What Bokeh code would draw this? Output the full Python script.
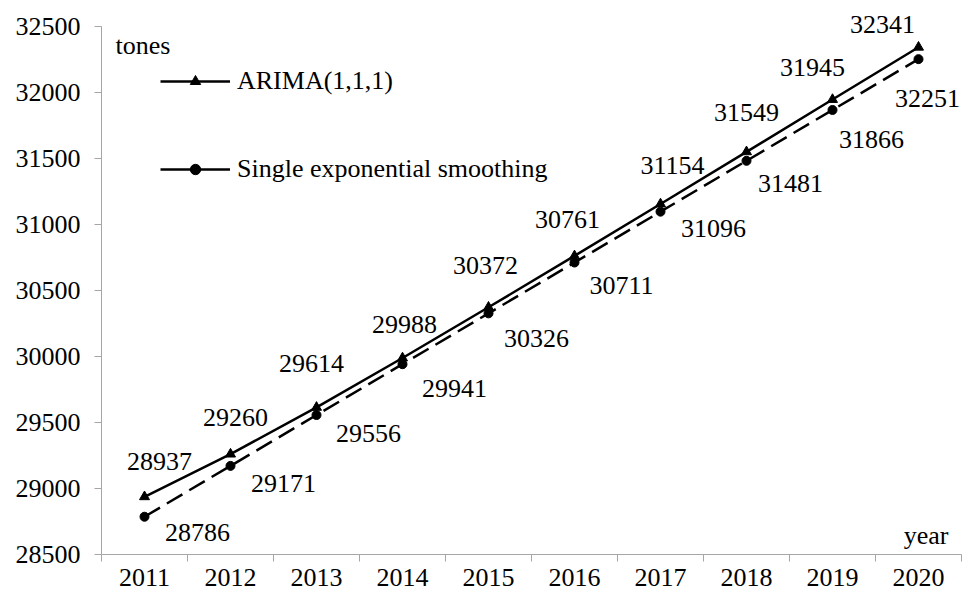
from bokeh.plotting import figure
from bokeh.models import (Range1d, FixedTicker, Legend, LegendItem, Label,
                          LabelSet, ColumnDataSource)
from bokeh.core.properties import value
from bokeh.embed import file_html
from bokeh.resources import INLINE

# ---- data ----
years = [2011, 2012, 2013, 2014, 2015, 2016, 2017, 2018, 2019, 2020]
arima = [28937, 29260, 29614, 29988, 30372, 30761, 31154, 31549, 31945, 32341]
ses = [28786, 29171, 29556, 29941, 30326, 30711, 31096, 31481, 31866, 32251]
y_ticks = [28500, 29000, 29500, 30000, 30500, 31000, 31500, 32000, 32500]

# ---- label offsets (screen px, style only) ----
arima_dx = [15, 5, -5, 2, -3, -7, 12, 0, -20, -36]
arima_dy = [35, 37, 44, 33, 42, 36, 39, 39, 32, 23]
ses_dx = [53, 53, 52, 52, 48, 47, 53, 44, 39, 9]
ses_dy = [-16, -18, -18, -24, -25, -23, -17, -23, -30, -39]

FONT = "serif"
FS = "26px"
AXIS_COLOR = "#a6a6a6"

p = figure(width=962, height=597, output_backend="svg", toolbar_location=None,
           x_range=Range1d(2010.5, 2020.5), y_range=Range1d(28500, 32695),
           min_border_left=101, min_border_right=1, min_border_top=0,
           min_border_bottom=43)
p.outline_line_color = None
p.grid.visible = False
p.background_fill_color = "white"
p.border_fill_color = "white"

# axes
xa = p.xaxis[0]
xa.ticker = FixedTicker(ticks=years,
                        minor_ticks=[y - 0.5 for y in years] + [years[-1] + 0.5])
xa.axis_line_color = AXIS_COLOR
xa.major_tick_line_color = None
xa.major_tick_out = 0
xa.major_tick_in = 0
xa.minor_tick_line_color = AXIS_COLOR
xa.minor_tick_out = 7
xa.minor_tick_in = 0
xa.major_label_text_font = FONT
xa.major_label_text_font_size = FS
xa.major_label_text_color = "black"
xa.major_label_standoff = 7

ya = p.yaxis[0]
ya.ticker = FixedTicker(ticks=y_ticks)
ya.bounds = (28500, 32500)
ya.axis_line_color = AXIS_COLOR
ya.major_tick_line_color = AXIS_COLOR
ya.major_tick_out = 7
ya.major_tick_in = 0
ya.minor_tick_line_color = None
ya.major_label_text_font = FONT
ya.major_label_text_font_size = FS
ya.major_label_text_color = "black"
ya.major_label_standoff = 14

# series
src = ColumnDataSource(dict(year=years, arima=arima, ses=ses,
                            arima_txt=[str(v) for v in arima],
                            ses_txt=[str(v) for v in ses],
                            adx=arima_dx, ady=arima_dy, sdx=ses_dx, sdy=ses_dy))

l1 = p.line("year", "arima", source=src, line_color="black", line_width=2.5)
m1 = p.scatter("year", "arima", source=src, marker="triangle", size=10,
               fill_color="black", line_color="black")
l2 = p.line("year", "ses", source=src, line_color="black", line_width=2.5,
            line_dash="18 8")
m2 = p.scatter("year", "ses", source=src, marker="circle", size=9,
               fill_color="black", line_color="black")

# solid sample line for the legend, kept outside the visible range
leg_line2 = p.line(x=[1990, 1991], y=[0, 0], line_color="black", line_width=2.5)
legend = Legend(items=[LegendItem(label="ARIMA(1,1,1)", renderers=[l1, m1]),
                       LegendItem(label="Single exponential smoothing",
                                  renderers=[leg_line2, m2])],
                location=(59, 370), orientation="vertical",
                glyph_width=70, glyph_height=26, label_height=26,
                label_standoff=7, spacing=58, padding=0, margin=0,
                border_line_color=None, background_fill_alpha=0,
                label_text_font=FONT, label_text_font_size=FS,
                label_text_color="black")
p.add_layout(legend)

p.add_layout(LabelSet(x="year", y="arima", text="arima_txt", source=src,
                      x_offset="adx", y_offset="ady", text_align="center",
                      text_baseline="middle", text_font=value(FONT),
                      text_font_size=value(FS), text_color="black"))
p.add_layout(LabelSet(x="year", y="ses", text="ses_txt", source=src,
                      x_offset="sdx", y_offset="sdy", text_align="center",
                      text_baseline="middle", text_font=value(FONT),
                      text_font_size=value(FS), text_color="black"))

p.add_layout(Label(x=2010.5, y=32500, x_offset=14, y_offset=-19, text="tones",
                   text_align="left", text_baseline="alphabetic",
                   text_font=FONT, text_font_size=FS, text_color="black"))
p.add_layout(Label(x=2020.5, y=28500, x_offset=-13, y_offset=19, text="year",
                   text_align="right", text_baseline="alphabetic",
                   text_font=FONT, text_font_size=FS, text_color="black"))

open("out.html", "w").write(file_html(p, INLINE))
